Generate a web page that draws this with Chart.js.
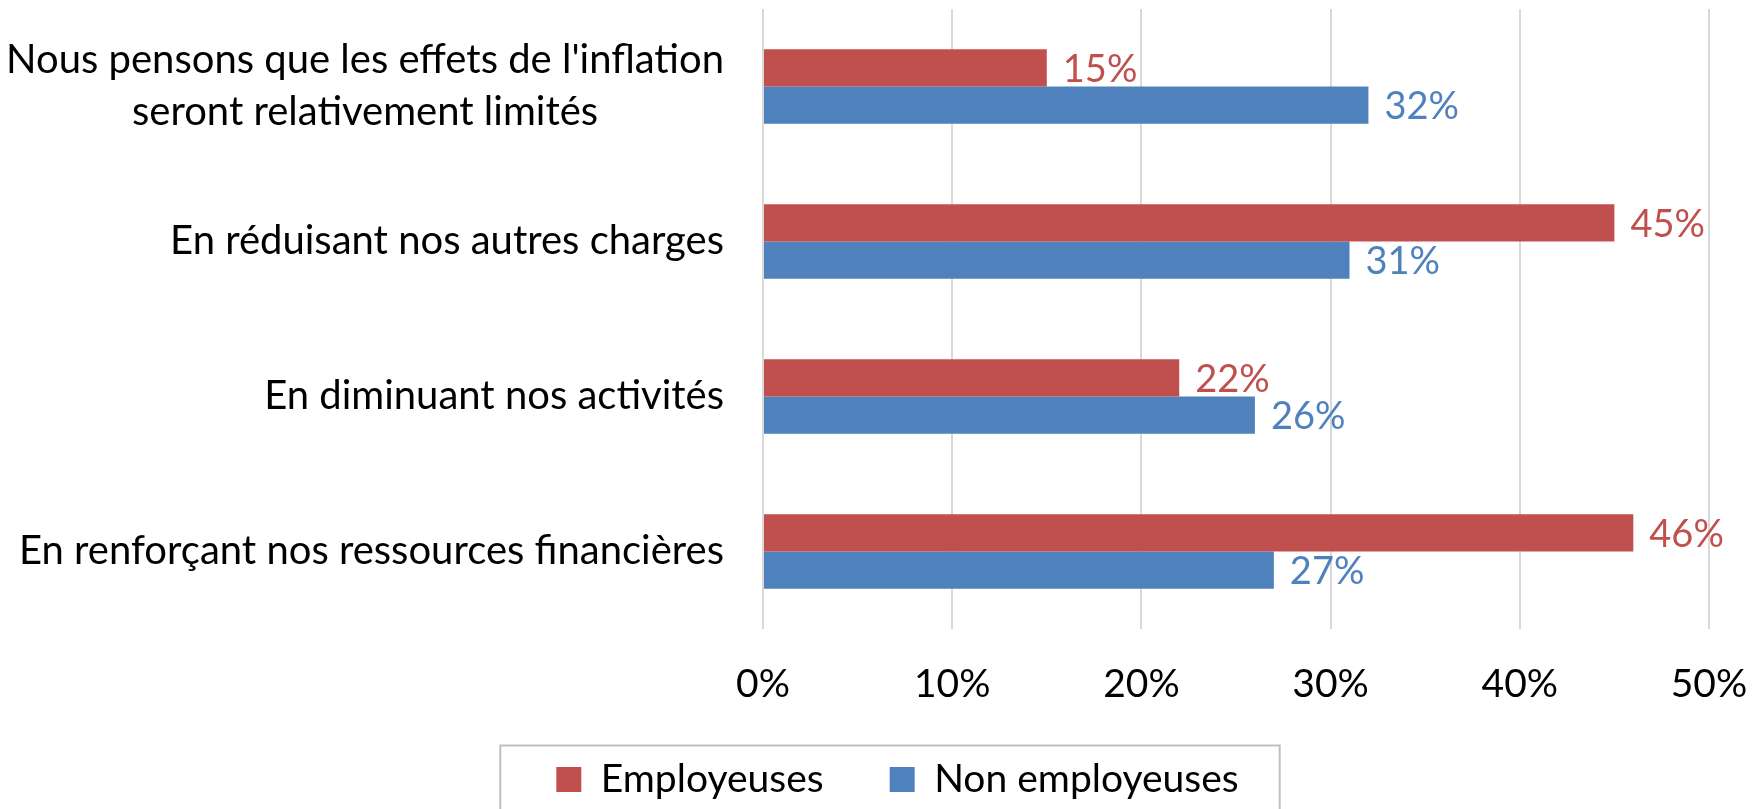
<!DOCTYPE html>
<html>
<head>
<meta charset="utf-8">
<script src="https://cdn.jsdelivr.net/npm/chart.js@4.4.1/dist/chart.umd.min.js"></script>
<style>
    html, body { margin: 0; padding: 0; background: #ffffff; }
    #wrap { width: 1752px; height: 809px; }
</style>
</head>
<body>
<div id="wrap"><canvas id="inflationChart" width="1752" height="809"></canvas></div>
<script>
// Chart data
const categories = [
    ["Nous pensons que les effets de l'inflation", "seront relativement limités"],
    ["En réduisant nos autres charges"],
    ["En diminuant nos activités"],
    ["En renforçant nos ressources financières"]
];
const seriesNames = ['Employeuses', 'Non employeuses'];
const employeuses = [15, 45, 22, 46];
const nonEmployeuses = [32, 31, 26, 27];
const xTicks = [0, 10, 20, 30, 40, 50];

const FONT = "Lato, 'Open Sans', sans-serif";
const LABEL_SIZE = 40;
const VALUE_SIZE = 38;
const RED = '#C0504D';
const BLUE = '#4F81BD';

// Category labels, drawn so multi-line labels are centred within their block
const categoryLabels = {
    id: 'categoryLabels',
    afterDraw(chart) {
        const ctx = chart.ctx;
        const yScale = chart.scales.y;
        const rightEdge = chart.chartArea.left - 39;
        const lineHeight = 52;
        ctx.save();
        ctx.font = LABEL_SIZE + 'px ' + FONT;
        ctx.fillStyle = '#000000';
        ctx.textAlign = 'center';
        ctx.textBaseline = 'middle';
        categories.forEach((lines, i) => {
            const y = yScale.getPixelForTick(i);
            const maxW = Math.max(...lines.map(l => ctx.measureText(l).width));
            const cx = rightEdge - maxW / 2;
            const startY = y - (lines.length - 1) * lineHeight / 2;
            lines.forEach((line, j) => ctx.fillText(line, cx, startY + j * lineHeight));
        });
        ctx.restore();
    }
};

// Value labels at the end of each bar
const valueLabels = {
    id: 'valueLabels',
    afterDatasetsDraw(chart) {
        const ctx = chart.ctx;
        ctx.save();
        ctx.font = VALUE_SIZE + 'px ' + FONT;
        ctx.textAlign = 'left';
        ctx.textBaseline = 'middle';
        chart.data.datasets.forEach((ds, di) => {
            const meta = chart.getDatasetMeta(di);
            meta.data.forEach((bar, i) => {
                ctx.fillStyle = ds.backgroundColor;
                ctx.fillText(ds.data[i] + '%', bar.x + 16, bar.y + 2);
            });
        });
        ctx.restore();
    }
};

// Border around the legend
const legendBorder = {
    id: 'legendBorder',
    afterDraw(chart) {
        const legend = chart.legend;
        if (!legend || !legend.legendHitBoxes.length) return;
        const boxes = legend.legendHitBoxes;
        const left = boxes[0].left - 56;
        const right = boxes[boxes.length - 1].left + boxes[boxes.length - 1].width + 41;
        const top = boxes[0].top + boxes[0].height / 2 - 34;
        const ctx = chart.ctx;
        ctx.save();
        ctx.strokeStyle = '#bfbfbf';
        ctx.lineWidth = 2;
        ctx.strokeRect(left, top, right - left, chart.height - top + 10);
        ctx.restore();
    }
};

// Let the x tick labels spill a little below the axis box so they aren't clipped
const unclipTicks = {
    id: 'unclipTicks',
    afterLayout(chart) {
        chart.scales.x.bottom += 30;
    }
};

const ctx = document.getElementById('inflationChart').getContext('2d');
new Chart(ctx, {
    type: 'bar',
    data: {
        labels: categories,
        datasets: [
            {
                label: seriesNames[0],
                data: employeuses,
                backgroundColor: RED,
                categoryPercentage: 0.48,
                barPercentage: 1.0
            },
            {
                label: seriesNames[1],
                data: nonEmployeuses,
                backgroundColor: BLUE,
                categoryPercentage: 0.48,
                barPercentage: 1.0
            }
        ]
    },
    options: {
        indexAxis: 'y',
        responsive: false,
        animation: false,
        layout: {
            padding: { top: 9, right: 43, left: 86, bottom: 0 }
        },
        plugins: {
            legend: {
                position: 'bottom',
                labels: {
                    font: { family: FONT, size: 39 },
                    color: '#000000',
                    boxWidth: 25,
                    boxHeight: 25,
                    padding: 66
                }
            },
            tooltip: { enabled: false }
        },
        scales: {
            x: {
                min: 0,
                max: 50,
                afterBuildTicks: (scale) => {
                    scale.ticks = xTicks.map(v => ({ value: v }));
                },
                afterFit: (scale) => {
                    scale.height = 65;
                    scale.paddingLeft = 0;
                    scale.paddingRight = 0;
                },
                grid: { color: '#d9d9d9', lineWidth: 2, drawTicks: false },
                border: { display: false },
                ticks: {
                    padding: 32,
                    color: '#000000',
                    font: { family: FONT, size: 39 },
                    callback: (v) => v + '%'
                }
            },
            y: {
                afterFit: (scale) => { scale.width = 677; },
                grid: { display: false },
                border: { display: false },
                ticks: { display: false }
            }
        }
    },
    plugins: [categoryLabels, valueLabels, legendBorder, unclipTicks]
});
</script>
</body>
</html>
